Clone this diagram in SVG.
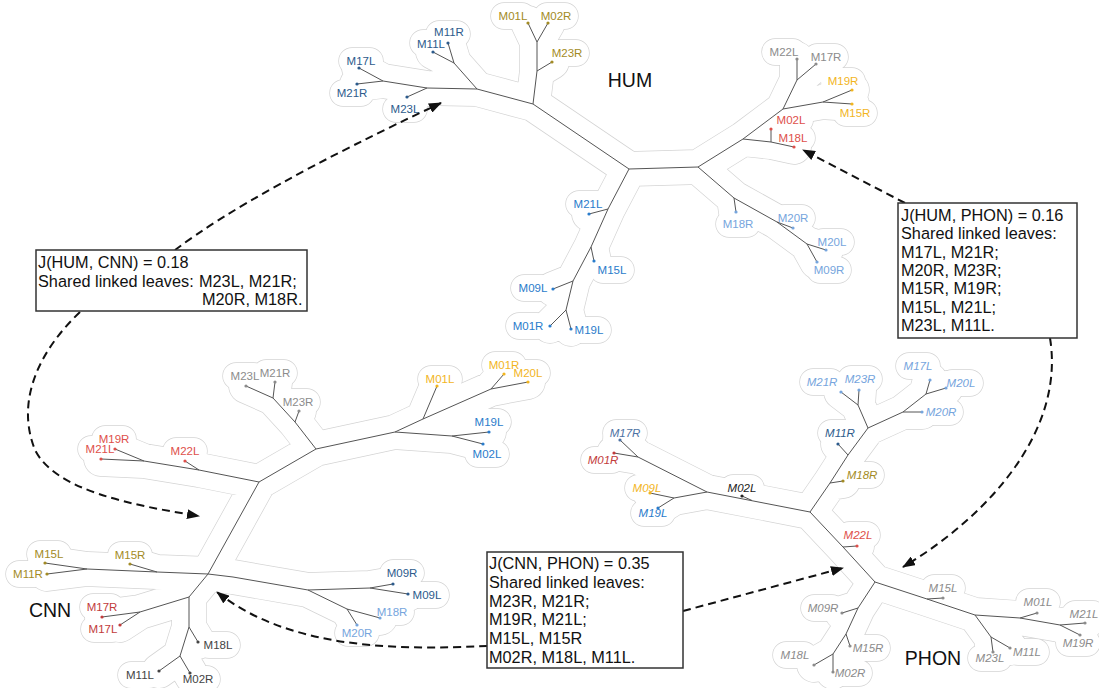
<svg xmlns="http://www.w3.org/2000/svg" xmlns:xlink="http://www.w3.org/1999/xlink" width="1099" height="688" viewBox="0 0 1099 688">
<style>
.lbl{font-family:"Liberation Sans",Arial,sans-serif;font-size:11.5px;text-anchor:middle}
.it text{font-style:italic}
.title{font-family:"Liberation Sans",Arial,sans-serif;font-size:19.5px;fill:#111;text-anchor:middle}
.box rect{fill:#fff;stroke:#333;stroke-width:1.5}
.box text{font-family:"Liberation Sans",Arial,sans-serif;font-size:16.3px;fill:#111}
.arrow{fill:none;stroke:#111;stroke-width:2;stroke-dasharray:8 5;marker-end:url(#ah)}
.db{fill:#2d5b8c}.go{fill:#a38b25}.gr{fill:#8c8c8c}.ye{fill:#f2b51e}.rd{fill:#de4f4a}.dr{fill:#c23b3b}
.bl{fill:#2a7ccb}.lb{fill:#76a5dd}.mb{fill:#4d72a3}.dk{fill:#444}.bk{fill:#222}
</style>
<defs>
<marker id="ah" markerUnits="userSpaceOnUse" markerWidth="13" markerHeight="10" refX="12" refY="5" orient="auto"><path d="M0,0 L13,5 L0,10 Z" fill="#111"/></marker>
<path id="hum-lblseg" d="M352,61h18M343,93h18M396,109h18M423,43h18M439,34h18M504,16h18M547,16h18M558,53h18M775,52h18M817,57h18M834,81h18M846,113h18M782,120h18M784,138h18M579,204h18M603,270h18M524,288h18M519,326h18M580,330h18M729,224h18M784,218h18M823,242h18M820,270h18"/>
<path id="cnn-lblseg" d="M105,439h18M91,449h18M176,451h18M236,376h18M266,373h18M289,402h18M431,379h18M495,365h18M519,373h18M480,422h18M478,454h18M40,554h18M19,574h18M121,555h18M393,573h18M418,595h18M383,612h18M348,633h18M93,607h18M94,629h18M209,645h18M131,675h18M189,679h18"/>
<path id="phon-lblseg" d="M616,433h18M594,460h18M638,488h18M644,513h18M733,488h18M853,475h18M831,433h18M813,382h18M851,379h18M932,412h18M909,366h18M952,383h18M849,535h18M934,588h18M1029,602h18M1075,614h18M1069,643h18M981,658h18M1018,652h18M814,608h18M859,648h18M786,655h18M841,673h18"/>
</defs>

<g id="hulls" fill="none" stroke-linecap="round" stroke-linejoin="round">
<g stroke="#d4d4d4">
<use href="#hum-edges" stroke-width="35.4"/><use href="#hum-lblseg" stroke-width="27.4"/>
<use href="#cnn-edges" stroke-width="35.4"/><use href="#cnn-lblseg" stroke-width="27.4"/>
<use href="#phon-edges" stroke-width="35.4"/><use href="#phon-lblseg" stroke-width="27.4"/>
</g>
<g stroke="#fff">
<use href="#hum-edges" stroke-width="34"/><use href="#hum-lblseg" stroke-width="26"/>
<use href="#cnn-edges" stroke-width="34"/><use href="#cnn-lblseg" stroke-width="26"/>
<use href="#phon-edges" stroke-width="34"/><use href="#phon-lblseg" stroke-width="26"/>
</g>
</g>

<g id="tree-connectors" fill="none" stroke="#555" stroke-width="1" stroke-linejoin="round">
<path id="hum-edges" d="M359,68 L383,81 M357,84 L383,81 L427,88 L477,89 M407,97 L427,88 M433,52 L454,63 M448,43 L454,63 L477,89 L533,104 L537,71 L537,42 L528,23 M537,42 L548,23 M537,71 L552,62 M533,104 L629,169 L698,167 L743,139 L783,109 L797,80 L797,59 M797,80 L816,64 M783,109 L823,102 L852,90 M823,102 L852,104 M743,139 L771,142 L794,147 M771,142 L771,129 M629,169 L608,209 L591,247 L573,281 L566,310 L550,326 M566,310 L571,329 M573,281 L553,289 M591,247 L594,261 M608,209 L589,214 M698,167 L734,198 L777,222 L807,244 L826,250 M807,244 L817,262 M777,222 L793,228 M734,198 L736,212"/>
<path id="cnn-edges" d="M115,449 L144,461 M101,459 L144,461 L199,470 L259,482 L316,449 L395,432 L452,436 L489,432 M452,436 L483,444 M395,432 L423,419 L491,389 L528,382 M491,389 L504,374 M423,419 L437,386 M316,449 L295,422 L273,398 L246,386 M273,398 L275,382 M295,422 L299,411 M199,470 L185,461 M259,482 L208,574 L189,597 L189,627 L180,656 L159,671 M180,656 L190,673 M189,627 L198,642 M189,597 L140,612 L102,617 M140,612 L120,625 M45,563 L87,569 M47,574 L87,569 L157,572 L208,574 L233,577 L308,590 L370,588 L393,584 M370,588 L408,594 M308,590 L347,609 L380,618 M347,609 L357,625 M157,572 L130,564"/>
<path id="phon-edges" d="M620,440 L638,457 M614,453 L638,457 L707,492 L810,512 M707,492 L674,498 L650,493 M674,498 L658,508 M742,496 L752,500.5 M810,512 L830,483 L848,455 L868,428 L903,412 L926,394 L930,380 M926,394 L946,388 M903,412 L922,412 M868,428 L858,405 L841,392 M858,405 L859,390 M848,455 L838,444 M830,483 L843,481 M810,512 L843,547 L875,582 L927,599 L975,615 L1020,618 L1060,625 L1085,623 M1060,625 L1080,635 M1020,618 L1037,613 M975,615 L991,637 L993,652 M991,637 L1010,648 M927,599 L943,598 M843,547 L857,546 M875,582 L858,608 L846,634 L833,654 L814,665 M833,654 L833,672 M846,634 L850,646 M858,608 L842,613"/>
</g>

<g id="hum-leaves">
<g id="hum-M17L" class="db"><circle cx="359" cy="68" r="1.6"/><text class="lbl" x="361" y="65">M17L</text></g>
<g id="hum-M21R" class="db"><circle cx="357" cy="84" r="1.6"/><text class="lbl" x="352" y="97">M21R</text></g>
<g id="hum-M23L" class="db"><circle cx="407" cy="97" r="1.6"/><text class="lbl" x="405" y="113">M23L</text></g>
<g id="hum-M11L" class="db"><circle cx="433" cy="52" r="1.6"/><text class="lbl" x="431" y="48">M11L</text></g>
<g id="hum-M11R" class="db"><circle cx="448" cy="43" r="1.6"/><text class="lbl" x="449" y="36">M11R</text></g>
<g id="hum-M01L" class="go"><circle cx="528" cy="23" r="1.6"/><text class="lbl" x="513" y="20">M01L</text></g>
<g id="hum-M02R" class="go"><circle cx="548" cy="23" r="1.6"/><text class="lbl" x="556" y="20">M02R</text></g>
<g id="hum-M23R" class="go"><circle cx="552" cy="62" r="1.6"/><text class="lbl" x="567" y="57">M23R</text></g>
<g id="hum-M22L" class="gr"><circle cx="797" cy="59" r="1.6"/><text class="lbl" x="784" y="56">M22L</text></g>
<g id="hum-M17R" class="gr"><circle cx="816" cy="64" r="1.6"/><text class="lbl" x="826" y="61">M17R</text></g>
<g id="hum-M19R" class="ye"><circle cx="852" cy="90" r="1.6"/><text class="lbl" x="843" y="85">M19R</text></g>
<g id="hum-M15R" class="ye"><circle cx="852" cy="104" r="1.6"/><text class="lbl" x="855" y="117">M15R</text></g>
<g id="hum-M02L" class="rd"><circle cx="771" cy="129" r="1.6"/><text class="lbl" x="791" y="124">M02L</text></g>
<g id="hum-M18L" class="rd"><circle cx="794" cy="147" r="1.6"/><text class="lbl" x="793" y="142">M18L</text></g>
<g id="hum-M21L" class="bl"><circle cx="589" cy="214" r="1.6"/><text class="lbl" x="588" y="208">M21L</text></g>
<g id="hum-M15L" class="bl"><circle cx="594" cy="261" r="1.6"/><text class="lbl" x="612" y="274">M15L</text></g>
<g id="hum-M09L" class="bl"><circle cx="553" cy="289" r="1.6"/><text class="lbl" x="533" y="292">M09L</text></g>
<g id="hum-M01R" class="bl"><circle cx="550" cy="326" r="1.6"/><text class="lbl" x="528" y="330">M01R</text></g>
<g id="hum-M19L" class="bl"><circle cx="571" cy="329" r="1.6"/><text class="lbl" x="589" y="334">M19L</text></g>
<g id="hum-M18R" class="lb"><circle cx="736" cy="212" r="1.6"/><text class="lbl" x="738" y="228">M18R</text></g>
<g id="hum-M20R" class="lb"><circle cx="793" cy="228" r="1.6"/><text class="lbl" x="793" y="222">M20R</text></g>
<g id="hum-M20L" class="lb"><circle cx="826" cy="250" r="1.6"/><text class="lbl" x="832" y="246">M20L</text></g>
<g id="hum-M09R" class="lb"><circle cx="817" cy="262" r="1.6"/><text class="lbl" x="829" y="274">M09R</text></g>
</g>

<g id="cnn-leaves">
<g id="cnn-M19R" class="rd"><circle cx="115" cy="449" r="1.6"/><text class="lbl" x="114" y="443">M19R</text></g>
<g id="cnn-M21L" class="rd"><circle cx="101" cy="459" r="1.6"/><text class="lbl" x="100" y="453">M21L</text></g>
<g id="cnn-M22L" class="rd"><circle cx="185" cy="461" r="1.6"/><text class="lbl" x="185" y="455">M22L</text></g>
<g id="cnn-M23L" class="gr"><circle cx="246" cy="386" r="1.6"/><text class="lbl" x="245" y="380">M23L</text></g>
<g id="cnn-M21R" class="gr"><circle cx="275" cy="382" r="1.6"/><text class="lbl" x="275" y="377">M21R</text></g>
<g id="cnn-M23R" class="gr"><circle cx="299" cy="411" r="1.6"/><text class="lbl" x="298" y="406">M23R</text></g>
<g id="cnn-M01L" class="ye"><circle cx="437" cy="386" r="1.6"/><text class="lbl" x="440" y="383">M01L</text></g>
<g id="cnn-M01R" class="ye"><circle cx="504" cy="374" r="1.6"/><text class="lbl" x="504" y="369">M01R</text></g>
<g id="cnn-M20L" class="ye"><circle cx="528" cy="382" r="1.6"/><text class="lbl" x="528" y="377">M20L</text></g>
<g id="cnn-M19L" class="bl"><circle cx="489" cy="432" r="1.6"/><text class="lbl" x="489" y="426">M19L</text></g>
<g id="cnn-M02L" class="bl"><circle cx="483" cy="444" r="1.6"/><text class="lbl" x="487" y="458">M02L</text></g>
<g id="cnn-M15L" class="go"><circle cx="45" cy="563" r="1.6"/><text class="lbl" x="49" y="558">M15L</text></g>
<g id="cnn-M11R" class="go"><circle cx="47" cy="574" r="1.6"/><text class="lbl" x="28" y="578">M11R</text></g>
<g id="cnn-M15R" class="go"><circle cx="130" cy="564" r="1.6"/><text class="lbl" x="130" y="559">M15R</text></g>
<g id="cnn-M09R" class="db"><circle cx="393" cy="584" r="1.6"/><text class="lbl" x="402" y="577">M09R</text></g>
<g id="cnn-M09L" class="db"><circle cx="408" cy="594" r="1.6"/><text class="lbl" x="427" y="599">M09L</text></g>
<g id="cnn-M18R" class="lb"><circle cx="380" cy="618" r="1.6"/><text class="lbl" x="392" y="616">M18R</text></g>
<g id="cnn-M20R" class="lb"><circle cx="357" cy="625" r="1.6"/><text class="lbl" x="357" y="637">M20R</text></g>
<g id="cnn-M17R" class="dr"><circle cx="102" cy="617" r="1.6"/><text class="lbl" x="102" y="611">M17R</text></g>
<g id="cnn-M17L" class="dr"><circle cx="120" cy="625" r="1.6"/><text class="lbl" x="103" y="633">M17L</text></g>
<g id="cnn-M18L" class="dk"><circle cx="198" cy="642" r="1.6"/><text class="lbl" x="218" y="649">M18L</text></g>
<g id="cnn-M11L" class="dk"><circle cx="159" cy="671" r="1.6"/><text class="lbl" x="140" y="679">M11L</text></g>
<g id="cnn-M02R" class="dk"><circle cx="190" cy="673" r="1.6"/><text class="lbl" x="198" y="683">M02R</text></g>
</g>

<g id="phon-leaves" class="it">
<g id="phon-M17R" class="mb"><circle cx="620" cy="440" r="1.6"/><text class="lbl" x="625" y="437">M17R</text></g>
<g id="phon-M01R" class="dr"><circle cx="614" cy="453" r="1.6"/><text class="lbl" x="603" y="464">M01R</text></g>
<g id="phon-M09L" class="ye"><circle cx="650" cy="493" r="1.6"/><text class="lbl" x="647" y="492">M09L</text></g>
<g id="phon-M19L" class="bl"><circle cx="658" cy="508" r="1.6"/><text class="lbl" x="653" y="517">M19L</text></g>
<g id="phon-M02L" class="bk"><circle cx="742" cy="496" r="1.6"/><text class="lbl" x="742" y="492">M02L</text></g>
<g id="phon-M18R" class="go"><circle cx="843" cy="481" r="1.6"/><text class="lbl" x="862" y="479">M18R</text></g>
<g id="phon-M11R" class="db"><circle cx="838" cy="444" r="1.6"/><text class="lbl" x="840" y="437">M11R</text></g>
<g id="phon-M21R" class="lb"><circle cx="841" cy="392" r="1.6"/><text class="lbl" x="822" y="386">M21R</text></g>
<g id="phon-M23R" class="lb"><circle cx="859" cy="390" r="1.6"/><text class="lbl" x="860" y="383">M23R</text></g>
<g id="phon-M20R" class="lb"><circle cx="922" cy="412" r="1.6"/><text class="lbl" x="941" y="416">M20R</text></g>
<g id="phon-M17L" class="lb"><circle cx="930" cy="380" r="1.6"/><text class="lbl" x="918" y="370">M17L</text></g>
<g id="phon-M20L" class="lb"><circle cx="946" cy="388" r="1.6"/><text class="lbl" x="961" y="387">M20L</text></g>
<g id="phon-M22L" class="rd"><circle cx="857" cy="546" r="1.6"/><text class="lbl" x="858" y="539">M22L</text></g>
<g id="phon-M15L" class="gr"><circle cx="943" cy="598" r="1.6"/><text class="lbl" x="943" y="592">M15L</text></g>
<g id="phon-M01L" class="gr"><circle cx="1037" cy="613" r="1.6"/><text class="lbl" x="1038" y="606">M01L</text></g>
<g id="phon-M21L" class="gr"><circle cx="1085" cy="623" r="1.6"/><text class="lbl" x="1084" y="618">M21L</text></g>
<g id="phon-M19R" class="gr"><circle cx="1080" cy="635" r="1.6"/><text class="lbl" x="1078" y="647">M19R</text></g>
<g id="phon-M23L" class="gr"><circle cx="993" cy="652" r="1.6"/><text class="lbl" x="990" y="662">M23L</text></g>
<g id="phon-M11L" class="gr"><circle cx="1010" cy="648" r="1.6"/><text class="lbl" x="1027" y="656">M11L</text></g>
<g id="phon-M09R" class="gr"><circle cx="842" cy="613" r="1.6"/><text class="lbl" x="823" y="612">M09R</text></g>
<g id="phon-M15R" class="gr"><circle cx="850" cy="646" r="1.6"/><text class="lbl" x="868" y="652">M15R</text></g>
<g id="phon-M18L" class="gr"><circle cx="814" cy="665" r="1.6"/><text class="lbl" x="795" y="659">M18L</text></g>
<g id="phon-M02R" class="gr"><circle cx="833" cy="672" r="1.6"/><text class="lbl" x="850" y="677">M02R</text></g>
</g>

<g id="tree-titles">
<text id="title-hum" class="title" x="630" y="87">HUM</text>
<text id="title-cnn" class="title" x="50" y="617">CNN</text>
<text id="title-phon" class="title" x="933" y="665">PHON</text>
</g>

<g id="link-connectors">
<path class="arrow" d="M175,250 Q253,191 441,103"/>
<path class="arrow" d="M80,312 C40,350 15,400 35,450 C55,490 130,505 199,516"/>
<path class="arrow" d="M905,203 L803,150"/>
<path class="arrow" d="M1050,338 C1065,430 990,515 903,567"/>
<path class="arrow" d="M487,646 C400,650 290,650 217,592"/>
<path class="arrow" d="M683,611 L843,568"/>
</g>

<g id="box-hum-cnn" class="box">
<rect x="36" y="250" width="271" height="61"/>
<text x="38" y="268">J(HUM, CNN) = 0.18</text>
<text x="38" y="287">Shared linked leaves:</text>
<text x="199" y="287">M23L, M21R;</text>
<text x="202" y="305">M20R, M18R.</text>
</g>

<g id="box-hum-phon" class="box">
<rect x="898" y="203" width="179" height="135"/>
<text x="901" y="221">J(HUM, PHON) = 0.16</text>
<text x="901" y="239.3">Shared linked leaves:</text>
<text x="901" y="257.6">M17L, M21R;</text>
<text x="901" y="275.9">M20R, M23R;</text>
<text x="901" y="294.2">M15R, M19R;</text>
<text x="901" y="312.5">M15L, M21L;</text>
<text x="901" y="330.8">M23L, M11L.</text>
</g>

<g id="box-cnn-phon" class="box">
<rect x="487" y="552" width="196" height="116"/>
<text x="489" y="569">J(CNN, PHON) = 0.35</text>
<text x="489" y="587.8">Shared linked leaves:</text>
<text x="489" y="606.6">M23R, M21R;</text>
<text x="489" y="625.4">M19R, M21L;</text>
<text x="489" y="644.2">M15L, M15R</text>
<text x="489" y="663">M02R, M18L, M11L.</text>
</g>
</svg>
